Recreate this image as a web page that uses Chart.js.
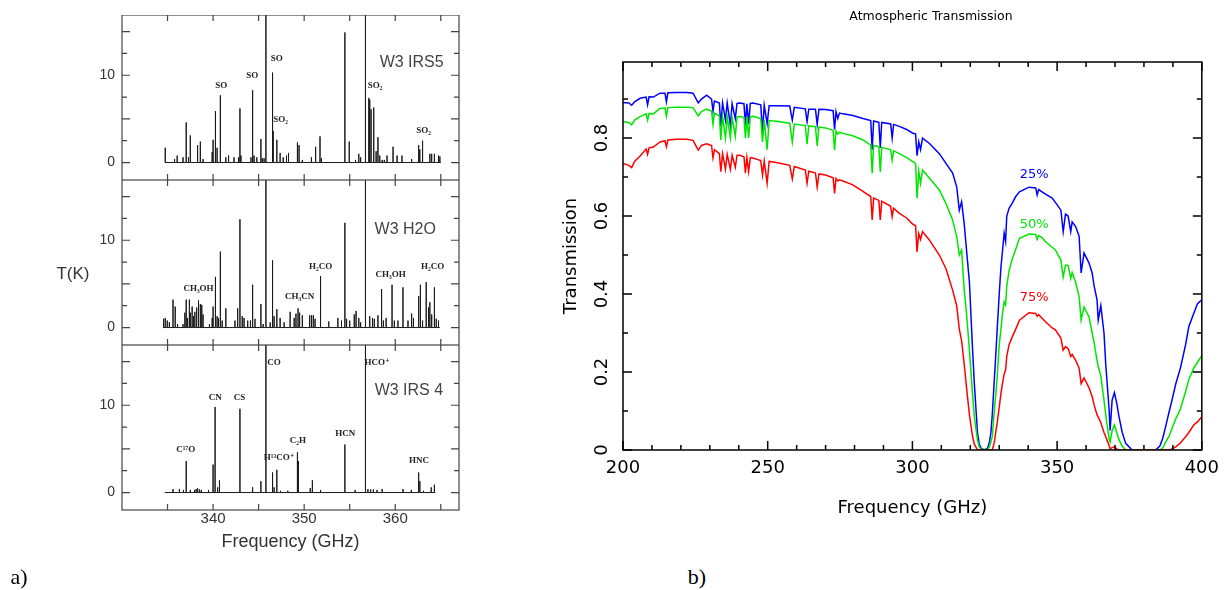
<!DOCTYPE html>
<html>
<head>
<meta charset="utf-8">
<script src="https://cdn.jsdelivr.net/npm/chart.js@4.4.1/dist/chart.umd.min.js"></script>
<style>
  html, body { margin: 0; padding: 0; background: #fff; }
  body { width: 1227px; height: 590px; position: relative; overflow: hidden; }
  .box { position: absolute; }
  .txt { position: absolute; white-space: nowrap; transform: translate(-50%, -50%); line-height: 1; }
</style>
</head>
<body>
<div class="box" style="left:0;top:15px;width:470px;height:165px"><canvas id="irs5"></canvas></div>
<div class="box" style="left:0;top:180px;width:470px;height:165px"><canvas id="h2o"></canvas></div>
<div class="box" style="left:0;top:345px;width:470px;height:220px"><canvas id="irs4"></canvas></div>
<div class="box" style="left:556px;top:0;width:671px;height:522px"><canvas id="trans"></canvas></div>

<div class="txt" style="left:73px;top:274px;font:17px 'Liberation Sans',sans-serif;color:#333">T(K)</div>
<div class="txt" style="left:931px;top:15px;font:12.5px 'DejaVu Sans',sans-serif;color:#000">Atmospheric Transmission</div>
<div class="txt" style="left:19px;top:577px;font:22px 'Liberation Serif',serif;color:#000">a)</div>
<div class="txt" style="left:697px;top:577px;font:22px 'Liberation Serif',serif;color:#000">b)</div>

<script>
// ---- panel a: line surveys (frequency GHz, T in K) ----
const irs5Freq = [334.75, 335.77, 336.06, 336.7, 337.05, 337.3, 337.5, 338.3, 338.6, 338.9,
  339.9, 340.0, 340.26, 340.44, 340.8, 341.4, 341.7, 342.3, 342.8, 342.95,
  343.06, 344.16, 344.34, 344.5, 344.8, 345.25, 345.4, 345.6, 345.8, 346.53,
  346.6, 347.0, 347.36, 347.7, 348.06, 348.28, 349.26, 349.44, 349.8, 350.8,
  351.26, 351.74, 351.9, 354.47, 354.95, 355.64, 356.0, 356.2, 356.73, 357.1,
  357.2, 357.35, 357.64, 357.9, 358.1, 358.3, 358.56, 358.8, 359.1, 359.76,
  360.2, 360.74, 361.8, 362.57, 362.7, 363.0, 363.8, 364.0, 364.3, 364.75, 364.9];
const irs5T = [1.7, 0.4, 0.8, 0.6, 4.6, 0.6, 3.1, 2.0, 2.4, 0.4,
  1.2, 2.6, 5.9, 1.7, 7.7, 0.6, 0.8, 0.6, 0.6, 6.2,
  0.8, 0.6, 8.3, 0.8, 0.6, 2.7, 0.5, 0.5, 25, 10.3,
  3.6, 2.6, 1.1, 0.6, 0.8, 1.1, 2.3, 2.0, 0.3, 0.6,
  1.8, 3.0, 0.5, 14.9, 2.4, 0.3, 1.0, 0.6, 25, 7.4,
  7.2, 6.1, 6.3, 1.3, 2.9, 0.8, 0.3, 0.3, 0.8, 1.8,
  0.8, 0.8, 0.4, 2.0, 1.5, 2.5, 1.0, 1.0, 1.0, 0.8, 0.7];
const irs5Span = [334.7, 365.0];

const h2oFreq = [334.57, 334.75, 334.97, 335.2, 335.6, 335.84, 336.1, 336.7, 336.9, 337.05,
  337.2, 337.4, 337.5, 337.7, 337.85, 338.0, 338.2, 338.4, 338.6, 338.76,
  338.9, 339.6, 339.9, 340.0, 340.26, 340.44, 340.6, 340.8, 341.0, 341.4,
  342.4, 342.7, 342.95, 343.2, 343.4, 343.8, 344.1, 344.34, 344.6, 345.25,
  345.5, 345.8, 346.27, 346.53, 346.7, 347.0, 347.36, 347.8, 348.46, 348.9,
  349.1, 349.33, 349.5, 349.8, 350.6, 350.8, 351.0, 351.2, 351.8, 352.7,
  353.7, 354.1, 354.47, 354.66, 355.0, 355.5, 355.7, 356.0, 356.2, 356.73,
  357.2, 357.5, 357.7, 358.1, 358.5, 358.7, 359.0, 359.65, 359.9, 360.3,
  360.85, 361.4, 361.8, 362.0, 362.57, 362.76, 363.0, 363.4, 363.66, 363.8,
  364.0, 364.3, 364.5, 364.75];
const h2oT = [1.0, 1.1, 0.8, 0.6, 3.2, 2.4, 0.4, 0.4, 1.7, 3.2,
  1.1, 3.2, 1.7, 2.4, 1.3, 1.8, 2.3, 3.1, 2.7, 2.6,
  1.5, 0.4, 1.1, 2.4, 5.8, 1.3, 1.1, 8.7, 0.8, 2.2,
  0.8, 2.2, 12.4, 1.3, 1.1, 0.8, 0.8, 4.9, 1.0, 2.7,
  0.4, 25, 0.6, 7.7, 1.3, 2.1, 1.1, 0.6, 1.8, 1.1,
  1.6, 2.2, 1.7, 1.4, 1.4, 1.4, 1.4, 1.0, 5.9, 0.7,
  1.1, 0.8, 12.0, 1.0, 0.8, 1.5, 1.9, 1.1, 0.6, 25,
  1.3, 1.1, 1.0, 1.4, 4.4, 0.8, 1.1, 4.9, 0.8, 0.8,
  4.6, 0.8, 1.6, 1.1, 3.6, 4.9, 0.8, 5.2, 2.3, 2.9,
  1.5, 4.6, 1.0, 0.8];
const h2oSpan = [334.5, 364.9];

const irs4Freq = [335.6, 336.3, 336.75, 337.05, 337.5, 337.96, 338.14, 338.3, 338.5, 338.7,
  339.5, 340.0, 340.22, 340.5, 340.7, 342.95, 344.34, 345.25, 345.8, 346.53,
  346.7, 347.0, 347.4, 348.2, 349.26, 349.37, 350.67, 350.9, 351.8, 354.47,
  355.6, 356.73, 357.0, 357.3, 357.6, 358.0, 358.56, 360.85, 361.76, 362.57,
  362.7, 363.1, 363.95, 364.3];
const irs4T = [0.4, 0.4, 0.3, 3.6, 0.3, 0.3, 0.4, 0.5, 0.35, 0.3,
  0.3, 3.2, 9.8, 0.6, 1.4, 9.6, 0.6, 1.3, 25, 2.3,
  0.6, 2.6, 0.2, 0.2, 4.6, 3.6, 0.5, 1.4, 0.3, 5.5,
  0.3, 25, 0.4, 0.35, 0.35, 0.3, 0.4, 0.4, 0.3, 2.3,
  1.3, 0.2, 0.6, 0.9];
const irs4Span = [334.7, 364.4];

const surveyFreqTicks = [340, 350, 360];
const surveyTempTicks = [0, 10];

// label text, frequency, T, style
const irs5Labels = [["SO", 340.9, 8.8, "line"], ["SO", 344.3, 9.9, "line"], ["SO", 347.0, 11.9, "line"],
  ["SO₂", 347.4, 4.9, "line"], ["SO₂", 357.8, 8.8, "line"], ["SO₂", 363.1, 3.7, "line"],
  ["W3 IRS5", 361.8, 11.4, "src"]];
const h2oLabels = [["CH₃OH", 338.4, 4.5, "line"], ["CH₃CN", 349.5, 3.5, "line"], ["H₂CO", 351.8, 7.0, "line"],
  ["CH₃OH", 359.5, 6.1, "line"], ["H₂CO", 364.1, 7.0, "line"], ["W3 H2O", 361.1, 11.2, "src"]];
const irs4Labels = [["CO", 346.7, 14.9, "line"], ["HCO⁺", 358.0, 14.9, "line"], ["CN", 340.25, 10.9, "line"],
  ["CS", 342.9, 10.9, "line"], ["C¹⁷O", 337.0, 4.9, "line"], ["H¹³CO⁺", 347.25, 4.0, "line"],
  ["C₂H", 349.3, 5.9, "line"], ["HCN", 354.5, 6.8, "line"], ["HNC", 362.6, 3.7, "line"],
  ["W3 IRS 4", 361.5, 11.7, "src"]];

// ---- panel b: atmospheric transmission ----
const freqGHz = [200, 202, 203, 204, 205.9, 208, 208.5, 209, 210.5, 212.8,
  214.5, 215, 215.5, 218.5, 222, 224.2, 226, 227.1, 228.9, 230.6,
  231.1, 231.6, 233.3, 233.8, 234.4, 235.4, 236.0, 237.1, 237.7, 238.8,
  239.4, 240.3, 241.8, 242.3, 242.8, 243.4, 244.0, 244.9, 247.6, 248.2,
  248.8, 249.8, 250.5, 253, 257.6, 258.5, 259.2, 263, 263.6, 264.2,
  266.5, 267.1, 267.7, 270, 272.6, 273.1, 273.6, 274.2, 274.8, 276,
  279.4, 282.9, 285.6, 286.1, 286.6, 288.4, 288.9, 289.4, 292.5, 293,
  293.5, 295.5, 298, 300, 301.1, 301.6, 302.2, 302.8, 303.5, 305.9,
  309.3, 311.6, 313.9, 315.3, 316.2, 317.0, 317.9, 318.7, 319.7, 320.8,
  321.4, 322.5, 323.1, 323.7, 324.8, 326.0, 326.6, 327.1, 327.6, 328.3,
  328.9, 329.3, 330.0, 330.6, 331.0, 331.7, 332.2, 332.6, 333.4, 334.5,
  335.7, 337.0, 340.3, 342.6, 343.1, 343.6, 344.8, 346.0, 348.3, 349.4,
  351.3, 352.1, 352.9, 353.8, 354.7, 355.2, 356.4, 357.6, 358.3, 359.3,
  361.0, 362.1, 362.8, 363.8, 364.2, 365.1, 366.2, 366.8, 368.0, 368.3,
  369.0, 369.8, 370.6, 371.4, 372.5, 373.7, 375.9, 384.0, 385.5, 386.5,
  387.5, 388.6, 389.7, 391.0, 392.6, 394.4, 395.5, 397.2, 398.5, 400];
const trans25 = [.891, .89, .884, .893, .902, .905, .885, .906, .905, .915,
  .915, .893, .916, .917, .917, .915, .89, .90, .91, .90,
  .869, .895, .89, .83, .89, .846, .89, .833, .888, .85,
  .889, .89, .888, .833, .888, .837, .889, .89, .885, .816,
  .884, .837, .883, .883, .882, .846, .879, .875, .842, .874,
  .874, .835, .874, .873, .87, .822, .868, .85, .864, .862,
  .858, .85, .845, .77, .844, .84, .775, .84, .836, .80,
  .835, .83, .822, .813, .81, .755, .79, .77, .80, .786,
  .76, .735, .71, .675, .615, .637, .58, .513, .43, .256,
  .17, .043, .015, .005, 0, .005, .02, .043, .09, .18,
  .256, .31, .40, .47, .50, .556, .535, .60, .62, .633,
  .65, .662, .674, .672, .654, .668, .662, .656, .646, .635,
  .615, .56, .605, .60, .56, .585, .573, .548, .454, .505,
  .48, .454, .42, .385, .333, .37, .30, .22, .10, .05,
  .128, .147, .12, .085, .045, .017, 0, 0, .01, .03,
  .06, .095, .128, .17, .21, .27, .316, .35, .375, .385];
const trans50 = [.842, .84, .834, .846, .855, .862, .846, .863, .862, .876,
  .877, .856, .878, .879, .879, .878, .857, .868, .874, .869,
  .835, .864, .857, .795, .856, .80, .855, .80, .853, .805,
  .854, .855, .853, .80, .853, .80, .855, .856, .85, .79,
  .846, .77, .845, .843, .838, .79, .836, .832, .784, .831,
  .829, .78, .828, .826, .82, .769, .818, .81, .815, .812,
  .806, .795, .782, .71, .781, .778, .713, .776, .77, .743,
  .767, .76, .75, .74, .735, .646, .715, .684, .718, .697,
  .667, .632, .59, .547, .50, .513, .41, .35, .256, .14,
  .085, .025, .008, .003, 0, .002, .008, .02, .034, .10,
  .15, .188, .27, .31, .342, .38, .372, .42, .46, .49,
  .515, .543, .554, .553, .54, .55, .545, .534, .52, .513,
  .487, .444, .474, .474, .44, .455, .43, .393, .333, .367,
  .342, .30, .274, .23, .214, .19, .128, .09, .026, .02,
  .05, .064, .045, .026, .01, 0, 0, 0, 0, .005,
  .02, .034, .055, .08, .105, .15, .18, .21, .225, .242];
const trans75 = [.735, .73, .724, .74, .754, .772, .758, .775, .777, .79,
  .793, .778, .795, .797, .797, .794, .769, .781, .785, .781,
  .749, .77, .76, .714, .76, .72, .758, .72, .756, .725,
  .756, .756, .752, .71, .75, .714, .75, .749, .742, .705,
  .741, .684, .74, .737, .73, .695, .727, .718, .684, .715,
  .71, .674, .708, .705, .698, .658, .696, .69, .693, .69,
  .68, .663, .65, .59, .646, .64, .59, .638, .625, .598,
  .62, .607, .595, .58, .575, .508, .555, .54, .56, .538,
  .50, .465, .41, .37, .31, .28, .22, .16, .09, .034,
  .015, 0, 0, 0, 0, 0, 0, 0, 0, .02,
  .051, .07, .11, .145, .165, .195, .205, .24, .27, .29,
  .31, .333, .352, .35, .343, .347, .338, .329, .313, .308,
  .287, .256, .265, .26, .24, .245, .23, .21, .17, .185,
  .16, .137, .115, .09, .085, .07, .045, .034, .01, .003,
  .006, .008, .003, 0, 0, 0, 0, 0, 0, 0,
  0, 0, .003, .008, .018, .034, .045, .064, .072, .085];

const transFreqTicks = [200, 250, 300, 350, 400];
const transTicks = [0, 0.2, 0.4, 0.6, 0.8];
const pctLabels = [["25%", 342.1, 0.705, "blue"], ["50%", 342.1, 0.577, "green"], ["75%", 342.1, 0.39, "red"]];

// inward tick marks on all four sides + box
const framePlugin = {
  id: "frame",
  afterDraw(chart, args, o) {
    const { ctx, chartArea: a } = chart;
    const xs = chart.scales.x, ys = chart.scales.y;
    ctx.save();
    ctx.strokeStyle = o.color;
    ctx.lineWidth = o.width;
    ctx.strokeRect(a.left, a.top, a.right - a.left, a.bottom - a.top);
    ctx.beginPath();
    o.xTicks.forEach(([v, len]) => {
      const p = xs.getPixelForValue(v);
      ctx.moveTo(p, a.bottom); ctx.lineTo(p, a.bottom - len);
      ctx.moveTo(p, a.top); ctx.lineTo(p, a.top + len);
    });
    o.yTicks.forEach(([v, len]) => {
      const p = ys.getPixelForValue(v);
      ctx.moveTo(a.left, p); ctx.lineTo(a.left + len, p);
      ctx.moveTo(a.right, p); ctx.lineTo(a.right - len, p);
    });
    ctx.stroke();
    ctx.restore();
  }
};

const labelPlugin = {
  id: "peakLabels",
  afterDatasetsDraw(chart, args, o) {
    const { ctx } = chart;
    const xs = chart.scales.x, ys = chart.scales.y;
    ctx.save();
    ctx.textAlign = "center";
    ctx.textBaseline = "middle";
    o.items.forEach(([txt, f, t, style]) => {
      ctx.font = o.styles[style].font;
      ctx.fillStyle = o.styles[style].color;
      ctx.fillText(txt, xs.getPixelForValue(f), ys.getPixelForValue(t));
    });
    ctx.restore();
  }
};

function sticks(freqs, temps, span) {
  const order = freqs.map((f, i) => i).sort((a, b) => freqs[a] - freqs[b]);
  const pts = [{ x: span[0], y: 0 }];
  order.forEach(i => {
    pts.push({ x: freqs[i], y: 0 }, { x: freqs[i], y: temps[i] }, { x: freqs[i], y: 0 });
  });
  pts.push({ x: span[1], y: 0 });
  return pts;
}

const surveyStyles = {
  line: { font: "bold 9px 'Liberation Serif', 'DejaVu Serif', serif", color: "#222" },
  src: { font: "16px 'Liberation Sans', sans-serif", color: "#444" }
};

function surveyPanel(id, freqs, temps, span, labels, showX) {
  return new Chart(document.getElementById(id), {
    type: "scatter",
    data: {
      datasets: [{
        data: sticks(freqs, temps, span),
        showLine: true,
        borderColor: "#1a1a1a",
        borderWidth: 1,
        pointRadius: 0,
        tension: 0
      }]
    },
    options: {
      responsive: true,
      maintainAspectRatio: false,
      animation: false,
      layout: { padding: { left: 0, right: 11, top: 0, bottom: 0 } },
      plugins: {
        legend: { display: false },
        tooltip: { enabled: false },
        frame: {
          color: "#444", width: 1.2,
          xTicks: [[335, 6], [340, 6], [345, 6], [350, 6], [355, 6], [360, 6], [365, 6]],
          yTicks: [[0, 8], [2.5, 5], [5, 8], [7.5, 5], [10, 8], [12.5, 5], [15, 8]]
        },
        peakLabels: { items: labels, styles: surveyStyles }
      },
      scales: {
        x: {
          type: "linear", min: 330, max: 367,
          display: showX,
          grid: { display: false, drawTicks: false },
          border: { display: false },
          afterBuildTicks: s => { s.ticks = surveyFreqTicks.map(v => ({ value: v })); },
          ticks: { font: { family: "Liberation Sans", size: 15 }, color: "#333", padding: 0 },
          title: {
            display: showX, text: "Frequency (GHz)",
            font: { family: "Liberation Sans", size: 18 }, color: "#333",
            padding: { top: 12, bottom: 12 }
          },
          afterFit: s => { s.height = showX ? 55 : 0; s.paddingLeft = 0; s.paddingRight = 0; }
        },
        y: {
          type: "linear", min: -2, max: 16.9,
          grid: { display: false, drawTicks: false },
          border: { display: false },
          afterBuildTicks: s => { s.ticks = surveyTempTicks.map(v => ({ value: v })); },
          ticks: { font: { family: "Liberation Sans", size: 14 }, color: "#333", padding: 7 },
          afterFit: s => { s.width = 122; s.paddingTop = 0; s.paddingBottom = 0; }
        }
      }
    },
    plugins: [framePlugin, labelPlugin]
  });
}

surveyPanel("irs5", irs5Freq, irs5T, irs5Span, irs5Labels, false);
surveyPanel("h2o", h2oFreq, h2oT, h2oSpan, h2oLabels, false);
surveyPanel("irs4", irs4Freq, irs4T, irs4Span, irs4Labels, true);

const curve = vals => freqGHz.map((f, i) => ({ x: f, y: vals[i] }));

new Chart(document.getElementById("trans"), {
  type: "line",
  data: {
    datasets: [
      { label: "75%", data: curve(trans75), borderColor: "#ff0000" },
      { label: "50%", data: curve(trans50), borderColor: "#00e600" },
      { label: "25%", data: curve(trans25), borderColor: "#0000ff" }
    ]
  },
  options: {
    responsive: true,
    maintainAspectRatio: false,
    animation: false,
    elements: { line: { borderWidth: 1.5, tension: 0 }, point: { radius: 0 } },
    layout: { padding: { left: 0, right: 24, top: 62, bottom: 0 } },
    plugins: {
      legend: { display: false },
      tooltip: { enabled: false },
      frame: {
        color: "#000", width: 1.5,
        xTicks: [[200, 9], [210, 5], [220, 5], [230, 5], [240, 5], [250, 9], [260, 5], [270, 5], [280, 5], [290, 5],
          [300, 9], [310, 5], [320, 5], [330, 5], [340, 5], [350, 9], [360, 5], [370, 5], [380, 5], [390, 5], [400, 9]],
        yTicks: [[0, 9], [0.1, 5], [0.2, 9], [0.3, 5], [0.4, 9], [0.5, 5], [0.6, 9], [0.7, 5], [0.8, 9], [0.9, 5]]
      },
      peakLabels: {
        items: pctLabels,
        styles: {
          blue: { font: "13px 'DejaVu Sans', sans-serif", color: "#0000ff" },
          green: { font: "13px 'DejaVu Sans', sans-serif", color: "#00e600" },
          red: { font: "13px 'DejaVu Sans', sans-serif", color: "#ff0000" }
        }
      }
    },
    scales: {
      x: {
        type: "linear", min: 200, max: 400,
        grid: { display: false, drawTicks: false },
        border: { display: false },
        afterBuildTicks: s => { s.ticks = transFreqTicks.map(v => ({ value: v })); },
        ticks: { font: { family: "DejaVu Sans", size: 18 }, color: "#000", padding: 8, maxRotation: 0 },
        title: {
          display: true, text: "Frequency (GHz)",
          font: { family: "DejaVu Sans", size: 18 }, color: "#000",
          padding: { top: 3, bottom: 3 }
        },
        afterFit: s => { s.height = 72; }
      },
      y: {
        type: "linear", min: 0, max: 0.995,
        grid: { display: false, drawTicks: false },
        border: { display: false },
        afterBuildTicks: s => { s.ticks = transTicks.map(v => ({ value: v })); },
        ticks: {
          font: { family: "DejaVu Sans", size: 18 }, color: "#000",
          minRotation: 90, maxRotation: 90, crossAlign: "center", padding: 6
        },
        title: {
          display: true, text: "Transmission",
          font: { family: "DejaVu Sans", size: 18 }, color: "#000",
          padding: { top: 5, bottom: 5 }
        },
        afterFit: s => { s.width = 67; s.paddingTop = 0; s.paddingBottom = 0; }
      }
    }
  },
  plugins: [framePlugin, labelPlugin]
});
</script>
</body>
</html>
